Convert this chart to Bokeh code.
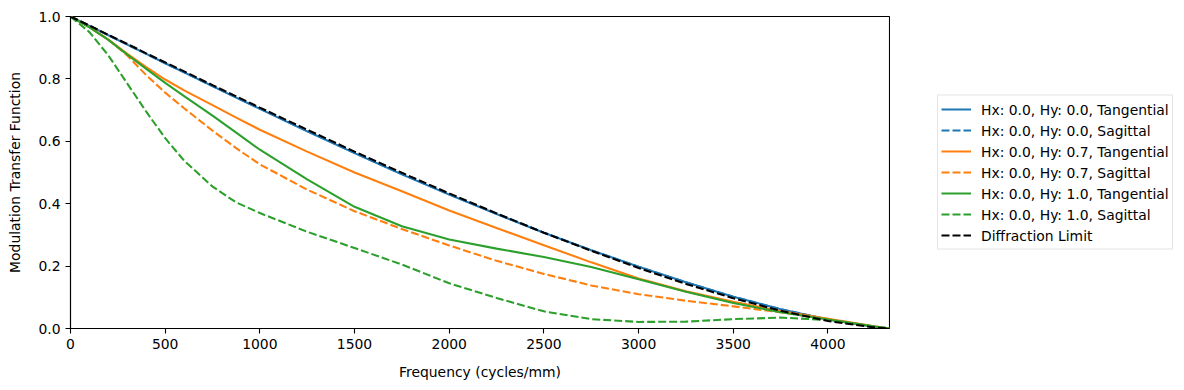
from bokeh.plotting import figure
from bokeh.layouts import row
from bokeh.models import Range1d, FixedTicker, PrintfTickFormatter, Legend, LegendItem
from bokeh.embed import file_html
from bokeh.resources import INLINE

freq = [0, 100, 200, 300, 400, 500, 600, 750, 875, 1000, 1250, 1500, 1750, 2000,
        2250, 2500, 2750, 3000, 3250, 3500, 3750, 4000, 4250, 4325]

hy00_tan = [1.0, 0.970, 0.940, 0.910, 0.880, 0.850, 0.821, 0.777, 0.740, 0.704, 0.632, 0.562, 0.494, 0.429,
            0.367, 0.307, 0.251, 0.198, 0.148, 0.102, 0.062, 0.029, 0.005, 0.0]
hy00_sag = [1.0, 0.970, 0.940, 0.910, 0.880, 0.850, 0.821, 0.777, 0.741, 0.705, 0.633, 0.563, 0.495, 0.430,
            0.368, 0.307, 0.251, 0.198, 0.148, 0.102, 0.062, 0.029, 0.005, 0.0]
hy07_tan = [1.0, 0.966, 0.926, 0.880, 0.838, 0.798, 0.763, 0.716, 0.676, 0.637, 0.567, 0.500, 0.440, 0.378,
            0.322, 0.267, 0.212, 0.160, 0.119, 0.086, 0.056, 0.031, 0.006, 0.0]
hy07_sag = [1.0, 0.966, 0.926, 0.875, 0.812, 0.756, 0.706, 0.634, 0.578, 0.526, 0.445, 0.376, 0.319, 0.266,
            0.217, 0.175, 0.138, 0.110, 0.089, 0.071, 0.052, 0.030, 0.006, 0.0]
hy10_tan = [1.0, 0.965, 0.925, 0.878, 0.832, 0.787, 0.745, 0.682, 0.628, 0.573, 0.478, 0.390, 0.328, 0.285,
            0.256, 0.229, 0.197, 0.158, 0.118, 0.082, 0.052, 0.029, 0.006, 0.0]
hy10_sag = [1.0, 0.950, 0.875, 0.785, 0.695, 0.610, 0.538, 0.455, 0.404, 0.370, 0.310, 0.258, 0.205, 0.145,
            0.098, 0.055, 0.030, 0.021, 0.022, 0.030, 0.035, 0.027, 0.005, 0.0]
diffraction = [1.0, 0.971, 0.941, 0.912, 0.882, 0.853, 0.824, 0.780, 0.744, 0.708, 0.637, 0.567, 0.499, 0.433,
               0.369, 0.307, 0.249, 0.194, 0.143, 0.097, 0.057, 0.024, 0.003, 0.0]

labels = ["Hx: 0.0, Hy: 0.0, Tangential", "Hx: 0.0, Hy: 0.0, Sagittal",
          "Hx: 0.0, Hy: 0.7, Tangential", "Hx: 0.0, Hy: 0.7, Sagittal",
          "Hx: 0.0, Hy: 1.0, Tangential", "Hx: 0.0, Hy: 1.0, Sagittal",
          "Diffraction Limit"]
series = [hy00_tan, hy00_sag, hy07_tan, hy07_sag, hy10_tan, hy10_sag, diffraction]
colors = ["#1f77b4", "#1f77b4", "#ff7f0e", "#ff7f0e", "#2ca02c", "#2ca02c", "#000000"]
dashes = ["solid", "8 3", "solid", "8 3", "solid", "8 3", "8 3"]

x_ticks = [0, 500, 1000, 1500, 2000, 2500, 3000, 3500, 4000]
y_ticks = [0.0, 0.2, 0.4, 0.6, 0.8, 1.0]

FONT = "DejaVu Sans"
FS = "13.9px"
LW = 2.08

p = figure(width=890, height=382, output_backend="svg", toolbar_location=None,
           x_range=Range1d(0, 4325), y_range=Range1d(0, 1),
           min_border_left=70, min_border_right=1, min_border_top=16, min_border_bottom=54)
p.grid.visible = False
p.outline_line_color = "black"
p.outline_line_width = 1.1
p.background_fill_color = "white"
p.border_fill_color = "white"

for ys, c, d in zip(series, colors, dashes):
    p.line(freq, ys, line_color=c, line_width=LW, line_dash=d)

for ax in (p.xaxis[0], p.yaxis[0]):
    ax.axis_line_color = "black"
    ax.axis_line_width = 1.1
    ax.major_tick_line_color = "black"
    ax.major_tick_line_width = 1.1
    ax.major_tick_out = 5
    ax.major_tick_in = 0
    ax.minor_tick_line_color = None
    ax.major_label_text_font = FONT
    ax.major_label_text_font_size = FS
    ax.major_label_text_color = "black"
    ax.major_label_standoff = 5
    ax.axis_label_text_font = FONT
    ax.axis_label_text_font_size = FS
    ax.axis_label_text_font_style = "normal"
    ax.axis_label_text_color = "black"

p.xaxis[0].ticker = FixedTicker(ticks=x_ticks)
p.yaxis[0].ticker = FixedTicker(ticks=y_ticks)
p.yaxis[0].formatter = PrintfTickFormatter(format="%.1f")
p.xaxis[0].axis_label = "Frequency (cycles/mm)"
p.yaxis[0].axis_label = "Modulation Transfer Function"
p.xaxis[0].axis_label_standoff = 12
p.yaxis[0].axis_label_standoff = 12

# legend panel: a blank figure (its data lie outside its visible range) holding the key
lp = figure(width=286, height=382, output_backend="svg", toolbar_location=None,
            x_range=Range1d(-2, -1), y_range=Range1d(0, 1),
            min_border_left=47, min_border_right=0, min_border_top=16, min_border_bottom=54)
lp.axis.visible = False
lp.grid.visible = False
lp.outline_line_color = None
lp.background_fill_color = "white"
lp.border_fill_color = "white"

items = []
for lab, ys, c, d in zip(labels, series, colors, dashes):
    r = lp.line(freq, ys, line_color=c, line_width=LW, line_dash=d)
    items.append(LegendItem(label=lab, renderers=[r]))

legend = Legend(items=items, location="center_left")
legend.label_text_font = FONT
legend.label_text_font_size = FS
legend.label_text_color = "black"
legend.glyph_width = 30
legend.glyph_height = 21
legend.label_height = 21
legend.spacing = 0
legend.padding = 3
legend.margin = 0
legend.label_standoff = 10
legend.border_line_color = "#cccccc"
legend.border_line_width = 1
legend.background_fill_color = "white"
legend.background_fill_alpha = 0.8
lp.add_layout(legend, "center")

layout = row(p, lp, spacing=0)
open("out.html", "w").write(file_html(layout, INLINE))
